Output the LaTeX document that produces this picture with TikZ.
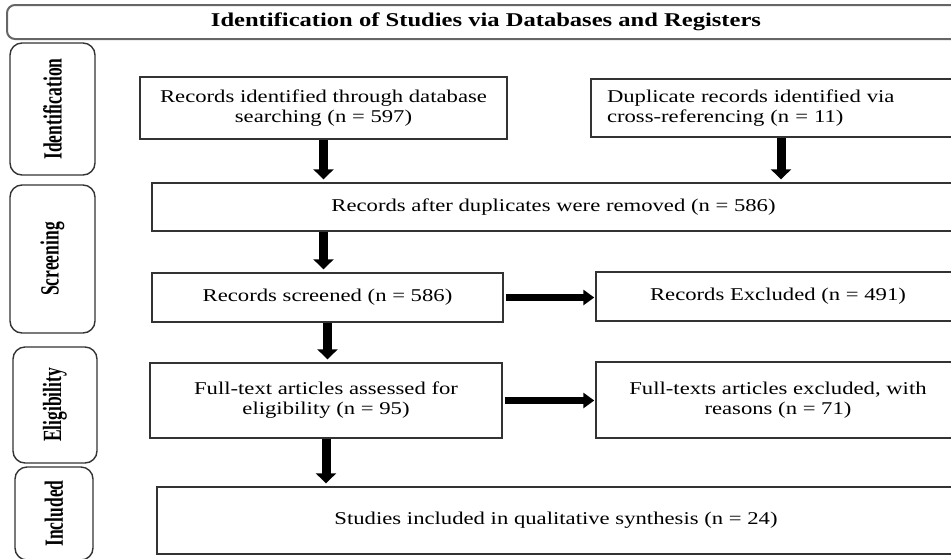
\documentclass[tikz,border=0pt]{standalone}
\usepackage{fontspec}
\setmainfont{Liberation Serif}[FakeStretch=1.26]
\newfontfamily\sidefont{Liberation Serif}
\usetikzlibrary{arrows.meta}

\tikzset{
  box/.style={draw=black!80, line width=1.4pt, inner sep=0pt, align=center,
    font=\fontsize{18}{20}\selectfont},
  side/.style={draw=black!80, line width=1.4pt, rounded corners=12pt, rotate=90,
    inner sep=0pt, font=\sidefont\bfseries\fontsize{17.5}{20}\selectfont},
  vflow/.style={line width=9pt, -{Triangle[length=10pt,width=20pt]}, shorten >=3pt},
  hflow/.style={line width=7pt, -{Triangle[length=11pt,width=15pt]}, shorten <=2pt, shorten >=1pt},
}

\begin{document}
\begin{tikzpicture}[x=1pt, y=-1pt]
\useasboundingbox (0,0) rectangle (951,558);

\node[draw=black!60, line width=2pt, rounded corners=8pt, minimum width=958pt,
  minimum height=34pt, font=\bfseries\fontsize{19.5}{22}\selectfont]
  (hdr) at (486,22) {Identification of Studies via Databases and Registers};

% stage labels
\node[side, minimum width=132pt, minimum height=85pt] (sid) at (52.5,109) {\scalebox{1}[1.5]{Identification}};
\node[side, minimum width=148pt, minimum height=85pt] (sscr) at (52.5,259) {\scalebox{1}[1.5]{Screening}};
\node[side, minimum width=116pt, minimum height=84pt] (selig) at (55,405) {\scalebox{1}[1.5]{Eligibility}};
\node[side, minimum width=93pt, minimum height=78pt] (sincl) at (54,513.5) {\scalebox{1}[1.5]{Included}};

% boxes
\node[box, minimum width=367pt, minimum height=62pt] (rec) at (323.5,108)
  {Records identified through database\\searching (n = 597)};
\node[box, align=left, inner xsep=16pt, text width=348pt, minimum height=58pt] (dup) at (781,108)
  {Duplicate records identified via\\cross-referencing (n = 11)};
\node[box, minimum width=803pt, minimum height=48pt] (after) at (553.5,207)
  {Records after duplicates were removed (n = 586)};
\node[box, minimum width=351pt, minimum height=49pt] (screened) at (327.5,297.5)
  {Records screened (n = 586)};
\node[box, minimum width=364pt, minimum height=49pt] (excl) at (778,296.5)
  {Records Excluded (n = 491)};
\node[box, minimum width=352pt, minimum height=75pt] (ftass) at (326,400.5)
  {Full-text articles assessed for\\eligibility (n = 95)};
\node[box, minimum width=364pt, minimum height=76pt] (ftexc) at (778,400)
  {Full-texts articles excluded, with\\reasons (n = 71)};
\node[box, minimum width=798pt, minimum height=67pt] (incl) at (556,520.5)
  {Studies included in qualitative synthesis (n = 24)};

% arrows
\draw[vflow] (rec.south) -- (rec.south |- after.north);
\draw[vflow] (dup.south) -- (dup.south |- after.north);
\draw[vflow] (rec.south |- after.south) -- (rec.south |- screened.north);
\draw[vflow] (screened.south) -- (screened.south |- ftass.north);
\draw[vflow] (ftass.south) -- (ftass.south |- incl.north);
\draw[hflow] (screened.east) -- (screened.east -| excl.west);
\draw[hflow] (ftass.east) -- (ftass.east -| ftexc.west);

\end{tikzpicture}
\end{document}
